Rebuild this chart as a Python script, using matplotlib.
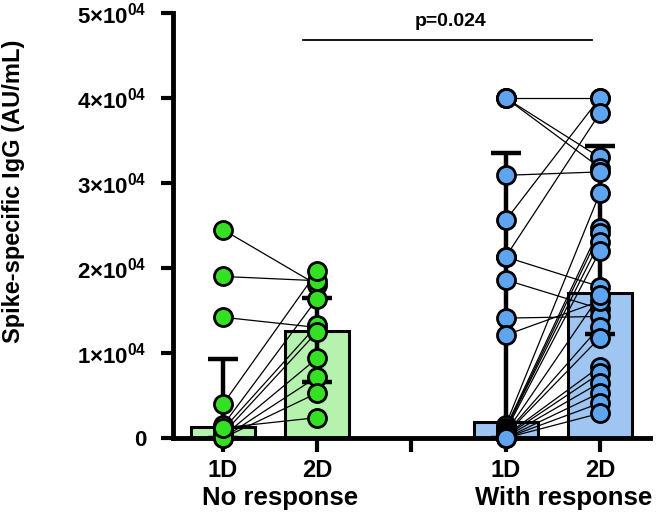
import matplotlib
matplotlib.use("Agg")
import matplotlib.pyplot as plt
from matplotlib.ticker import FuncFormatter
import numpy as np

plt.rcParams["font.family"] = ["Liberation Sans", "DejaVu Sans"]
plt.rcParams["mathtext.fontset"] = "custom"
plt.rcParams["mathtext.rm"] = "Liberation Sans:bold"
plt.rcParams["mathtext.bf"] = "Liberation Sans:bold"

# ---- data (AU/mL, x1e4) ----
groups = ["No response", "With response"]
tick_labels = ["1D", "2D", "", "1D", "2D"]

no_1d = [2.45, 1.90, 1.42, 0.40, 0.15, 0.10, 0.05, 0.02, 0.0, 0.0, 0.12]
no_2d = [1.80, 1.85, 1.30, 1.96, 1.64, 1.33, 1.25, 0.94, 0.72, 0.53, 0.24]

with_1d = [4.0, 4.0, 4.0, 3.09, 2.56, 2.13, 2.13, 1.86, 1.41, 1.21,
           0.15, 0.12, 0.10, 0.10, 0.08, 0.06, 0.05, 0.04, 0.03, 0.02,
           0.01, 0.0, 0.0, 0.0]
with_2d = [4.0, 3.30, 3.18, 3.13, 4.0, 3.82, 1.78, 1.52, 1.43, 1.61,
           2.88, 2.47, 2.41, 2.31, 2.20, 1.68, 1.31, 1.18, 0.84, 0.76,
           0.65, 0.53, 0.41, 0.29]

# bar = median, error bar = interquartile range
bar_height = [0.13, 1.26, 0.19, 1.71]
err_low = [0.0, 0.66, 0.0, 1.22]
err_high = [0.93, 1.65, 3.35, 3.43]

pvalue = "p=0.024"
scale = 1e4

green_fill = "#b5f2ad"
green_dot = "#33e022"
blue_fill = "#9fc6f2"
blue_dot = "#5ea4ee"

pos = [1, 2, 4, 5]
fills = [green_fill, green_fill, blue_fill, blue_fill]

fig = plt.figure(figsize=(6.61, 5.30), dpi=100)
ax = fig.add_axes([0.262, 0.1736, 0.721, 0.802])

vals = np.array(bar_height) * scale
ax.bar(pos, vals, width=0.68, color=fills, edgecolor="black", linewidth=2.2, zorder=1)
lo = vals - np.array(err_low) * scale
hi = np.array(err_high) * scale - vals
ax.errorbar(pos, vals, yerr=[lo, hi], fmt="none", ecolor="black",
            elinewidth=3.2, capsize=11, capthick=3.2, zorder=2)

# paired lines and points
for xa, xb, d1, d2, c in [(1, 2, no_1d, no_2d, green_dot), (4, 5, with_1d, with_2d, blue_dot)]:
    for a, b in zip(d1, d2):
        ax.plot([xa, xb], [a * scale, b * scale], color="black", lw=0.9, zorder=3)
    for x, d in [(xa, d1), (xb, d2)]:
        ax.plot([x] * len(d), np.array(d) * scale, "o", ms=13, mfc=c, mec="black",
                mew=2.0, clip_on=False, zorder=4, linestyle="none")

# significance bar
ax.plot([1.85, 4.92], [4.68e4, 4.68e4], color="black", lw=1.3, clip_on=False)
ax.text(3.41, 4.80e4, pvalue, ha="center", va="bottom", fontsize=14, fontweight="bold")

ax.set_xlim(0.47, 5.53)
ax.set_ylim(0, 5e4)
ax.set_xticks([1, 2, 3, 4, 5])
ax.set_xticklabels(tick_labels, fontsize=17, fontweight="bold")
ax.set_yticks(np.arange(0, 5.01e4, 1e4))


def fmt(v, _):
    if v == 0:
        return "0"
    return "%d×10$^{04}$" % round(v / 1e4)


ax.yaxis.set_major_formatter(FuncFormatter(fmt))
for lab in ax.get_yticklabels():
    lab.set_fontweight("bold")
ax.tick_params(axis="y", labelsize=16, length=9, width=3, pad=10)
ax.tick_params(axis="x", length=10, width=3, pad=5)
for s in ["top", "right"]:
    ax.spines[s].set_visible(False)
for s in ["left", "bottom"]:
    ax.spines[s].set_linewidth(3.5)

ax.set_ylabel("Spike-specific IgG (AU/mL)", fontsize=17, fontweight="bold")
ax.yaxis.set_label_coords(-0.31, 0.58)

ax.text(1.6, -0.14, groups[0], transform=ax.get_xaxis_transform(), ha="center",
        va="center", fontsize=18.5, fontweight="bold")
ax.text(4.62, -0.14, groups[1], transform=ax.get_xaxis_transform(), ha="center",
        va="center", fontsize=18.5, fontweight="bold")

fig.savefig("out.png", dpi=100)
